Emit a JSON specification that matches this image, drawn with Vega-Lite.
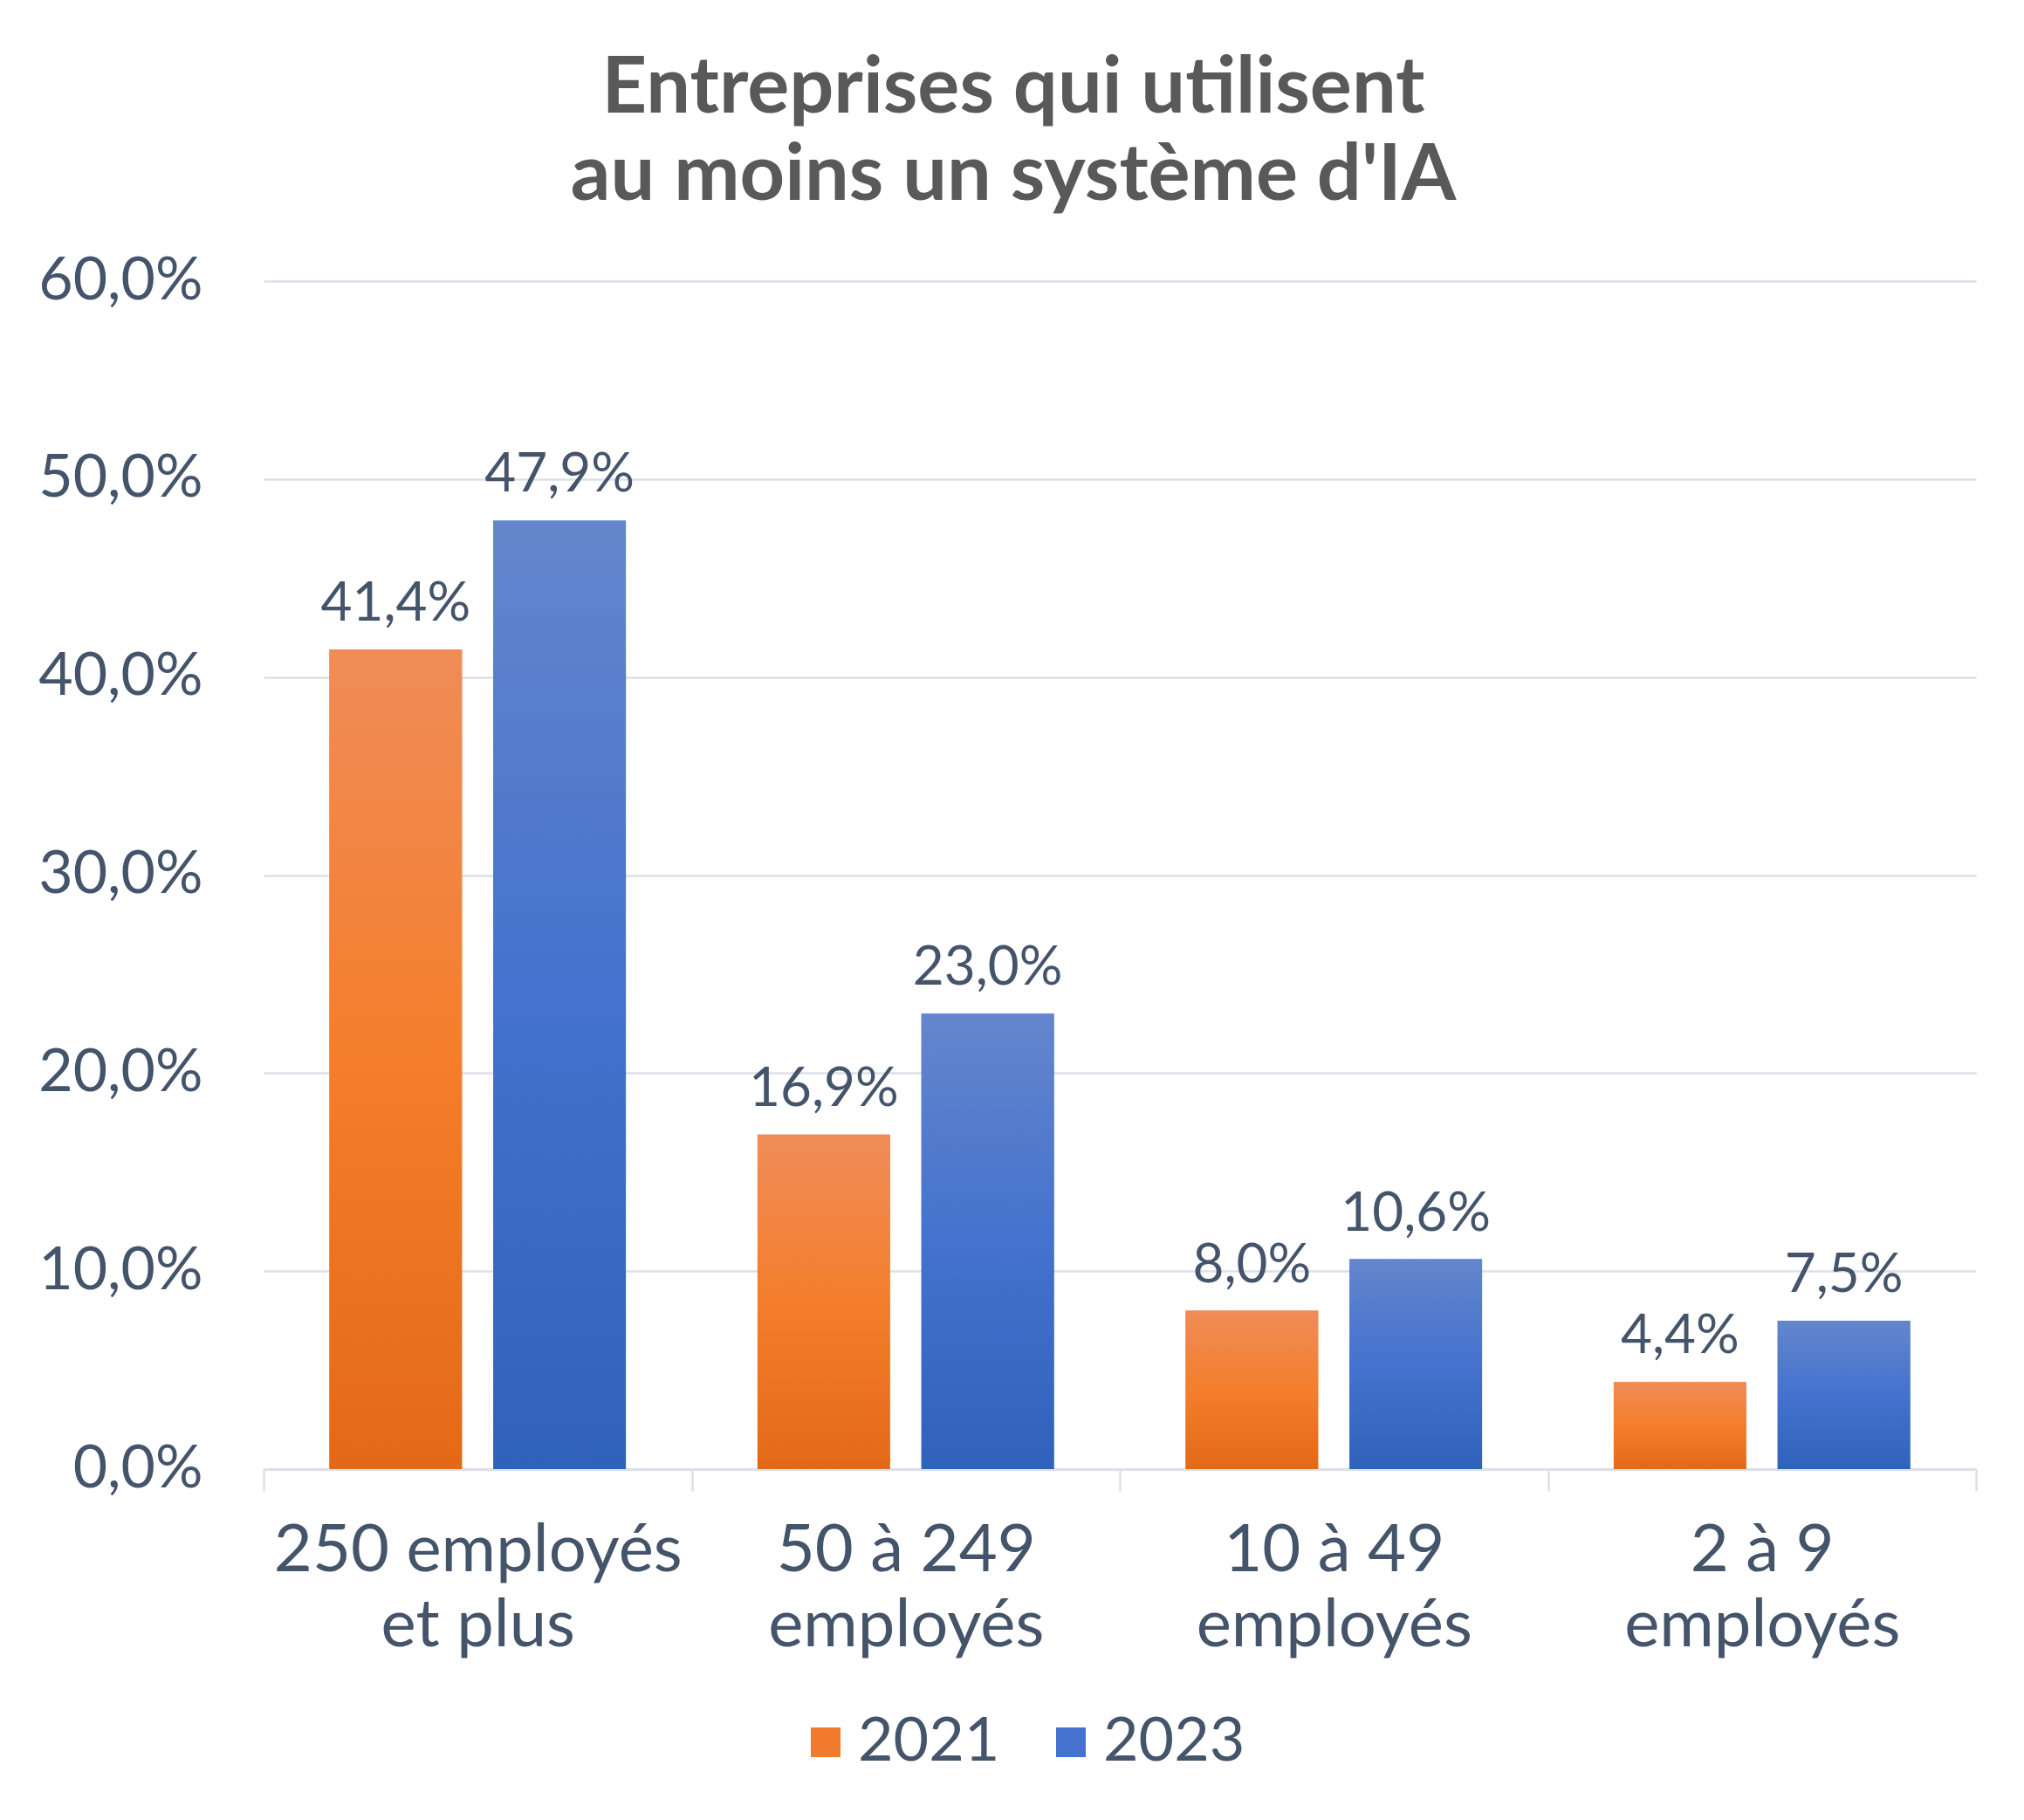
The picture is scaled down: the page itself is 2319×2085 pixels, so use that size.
{
  "$schema": "https://vega.github.io/schema/vega-lite/v6.json",
  "width": 1962,
  "height": 1361,
  "autosize": "none",
  "padding": {"left": 302, "top": 322, "right": 55, "bottom": 402},
  "background": "white",
  "config": {
    "locale": {"number": {"decimal": ",", "thousands": " ", "grouping": [3], "currency": ["", " €"]}},
    "view": {"stroke": null},
    "font": "Lato"
  },
  "title": {
    "text": ["Entreprises qui utilisent", "au moins un système d'IA"],
    "font": "Lato",
    "fontSize": 90,
    "fontWeight": "bold",
    "color": "#595959",
    "lineHeight": 100,
    "anchor": "middle",
    "frame": "group",
    "dx": -122,
    "offset": 40
  },
  "data": {
    "values": [
      {"taille": "250 employés et plus", "annee": "2021", "part": 0.414},
      {"taille": "250 employés et plus", "annee": "2023", "part": 0.479},
      {"taille": "50 à 249 employés", "annee": "2021", "part": 0.169},
      {"taille": "50 à 249 employés", "annee": "2023", "part": 0.230},
      {"taille": "10 à 49 employés", "annee": "2021", "part": 0.080},
      {"taille": "10 à 49 employés", "annee": "2023", "part": 0.106},
      {"taille": "2 à 9 employés", "annee": "2021", "part": 0.044},
      {"taille": "2 à 9 employés", "annee": "2023", "part": 0.075}
    ]
  },
  "encoding": {
    "x": {
      "field": "taille",
      "type": "nominal",
      "sort": ["250 employés et plus", "50 à 249 employés", "10 à 49 employés", "2 à 9 employés"],
      "scale": {"paddingInner": 0, "paddingOuter": 0},
      "axis": {
        "title": null,
        "labelAngle": 0,
        "labelExpr": "!isString(datum.value) ? '' : datum.value == '250 employés et plus' ? ['250 employés', 'et plus'] : [replace(datum.value, ' employés', ''), 'employés']",
        "labelFont": "Lato",
        "labelFontSize": 76,
        "labelColor": "#44546A",
        "labelLineHeight": 86,
        "labelPadding": 31,
        "labelLimit": 0,
        "labelOverlap": false,
        "tickBand": "extent",
        "ticks": true,
        "tickSize": 25,
        "tickWidth": 2.5,
        "tickColor": "#DDE0E8",
        "domainColor": "#DDE0E8",
        "domainWidth": 3,
        "grid": false
      }
    },
    "xOffset": {
      "field": "annee",
      "type": "nominal",
      "scale": {"paddingInner": 0.1915, "paddingOuter": 0.4016}
    },
    "y": {
      "field": "part",
      "type": "quantitative",
      "scale": {"domain": [0, 0.6], "nice": false},
      "axis": {
        "title": null,
        "values": [0, 0.1, 0.2, 0.3, 0.4, 0.5, 0.6],
        "format": ".1%",
        "labelFont": "Lato",
        "labelFontSize": 68,
        "labelColor": "#44546A",
        "labelPadding": 70,
        "labelLimit": 0,
        "ticks": false,
        "domain": false,
        "grid": true,
        "gridColor": "#DDE0E8",
        "gridWidth": 2.5
      }
    }
  },
  "layer": [
    {
      "mark": {"type": "bar"},
      "encoding": {
        "color": {
          "field": "annee",
          "type": "nominal",
          "scale": {"domain": ["2021", "2023"], "range": ["#F27A2C", "#4472CE"]},
          "legend": {
            "title": null,
            "orient": "none",
            "direction": "horizontal",
            "legendX": 609,
            "legendY": 1639,
            "symbolType": "square",
            "symbolSize": 1156,
            "symbolStrokeWidth": 0,
            "symbolOpacity": 1,
            "labelFont": "Lato",
            "labelFontSize": 70,
            "labelColor": "#44546A",
            "labelOffset": 2,
            "labelLimit": 0,
            "columnPadding": 46,
            "padding": 0
          }
        }
      }
    },
    {
      "mark": {"type": "bar"},
      "encoding": {
        "fill": {
          "condition": {
            "test": "datum.annee === '2021'",
            "value": {"gradient": "linear", "x1": 0, "y1": 0, "x2": 0, "y2": 1, "stops": [
              {"offset": 0, "color": "#F08C58"},
              {"offset": 0.5, "color": "#F47E2B"},
              {"offset": 1, "color": "#E36917"}
            ]}
          },
          "value": {"gradient": "linear", "x1": 0, "y1": 0, "x2": 0, "y2": 1, "stops": [
            {"offset": 0, "color": "#6486CC"},
            {"offset": 0.5, "color": "#4472CE"},
            {"offset": 1, "color": "#2F62BA"}
          ]}
        }
      }
    },
    {
      "mark": {"type": "text", "baseline": "alphabetic", "dy": -33, "font": "Lato", "fontSize": 62, "color": "#44546A"},
      "encoding": {
        "text": {"field": "part", "type": "quantitative", "format": ".1%"}
      }
    }
  ]
}
